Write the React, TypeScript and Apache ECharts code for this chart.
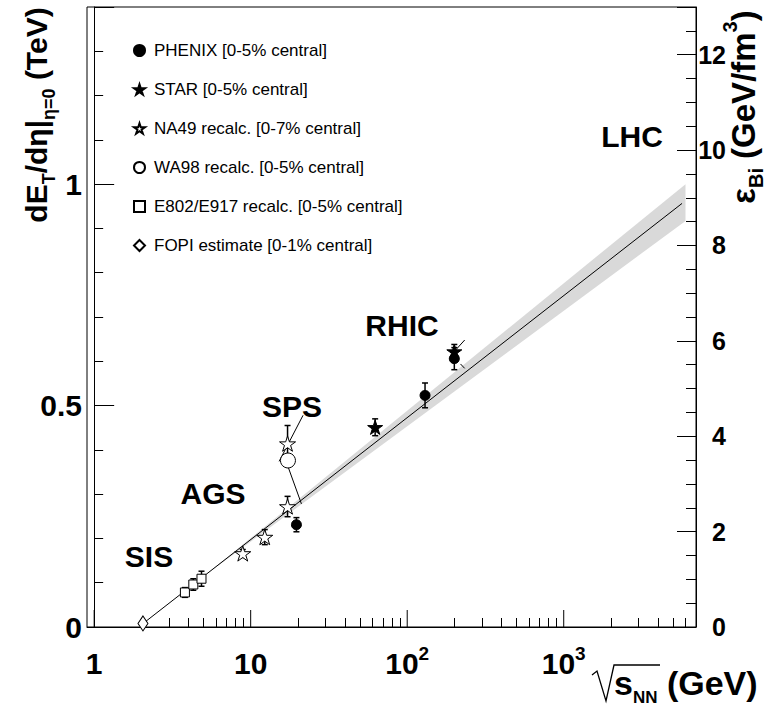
import React, { useEffect, useRef } from 'react';
import * as echarts from 'echarts';

const FONT = '"Liberation Sans", Arial, Helvetica, sans-serif';

// ---- data (sqrt(s_NN) in GeV, dE_T/deta in TeV) ----
const phenixX = [19.6, 130, 200];
const phenixY = [0.231, 0.523, 0.606];
const phenixErr = [0.016, 0.028, 0.025];

const starX = [62.4, 200];
const starY = [0.451, 0.622];
const starErr = [0.019, 0.016];

const na49X = [8.9, 12.3, 17.2, 17.2];
const na49Y = [0.166, 0.203, 0.272, 0.414];
const na49Err = [0.009, 0.017, 0.023, 0.041];

const wa98X = [17.3];
const wa98Y = [0.376];

const e802X = [3.8, 4.3, 4.85];
const e802Y = [0.078, 0.096, 0.109];
const e802Err = [0.011, 0.013, 0.017];

const fopiX = [2.05];
const fopiY = [0.008];

const fitX = [2.05, 5700];
const fitY = [0.0077, 0.9565];

const bandX = [5.0, 6000];
const bandLow = [0.114, 0.917];
const bandHigh = [0.114, 1.0];

const leaderLines = [
  [[21.6, 0.478], [15.2, 0.374]],
  [[17.2, 0.365], [21.1, 0.278]],
  [[233, 0.648], [201, 0.623]],
  [[219, 0.594], [233, 0.584]],
];

const seriesNames = [
  'PHENIX [0-5% central]',
  'STAR [0-5% central]',
  'NA49 recalc. [0-7% central]',
  'WA98 recalc. [0-5% central]',
  'E802/E917 recalc. [0-5% central]',
  'FOPI estimate [0-1% central]',
];

const xMajor = [1, 10, 100, 1000];
const xMinor = [2, 3, 4, 5, 6, 7, 8, 9, 20, 30, 40, 50, 60, 70, 80, 90, 200, 300, 400, 500, 600, 700, 800, 900, 2000, 3000, 4000, 5000, 6000];
const xRange = [0.9, 7000];
const yLeftRange = [0, 1.4];
const yRightRange = [0, 13];
const yLeftLabels = ['0', '0.5', '1'];
const regionLabels = ['SIS', 'AGS', 'SPS', 'RHIC', 'LHC'];

const STAR_PATH =
  'path://M50,0 L61.23,34.55 L97.55,34.55 L68.17,55.9 L79.39,90.45 L50,69.1 L20.61,90.45 L31.83,55.9 L2.45,34.55 L38.77,34.55 Z';

const lg = (v: number) => Math.log10(v);

export default function App() {
  const ref = useRef<HTMLDivElement>(null);

  useEffect(() => {
    const chart = echarts.init(ref.current!, null, { renderer: 'svg' });
    const pts = (xs: number[], ys: number[]) => xs.map((x, i) => [lg(x), ys[i]]);
    const errPts = (xs: number[], ys: number[], es: number[]) => xs.map((x, i) => [lg(x), ys[i], es[i]]);
    const allErr = [
      ...errPts(phenixX, phenixY, phenixErr),
      ...errPts(starX, starY, starErr),
      ...errPts(na49X, na49Y, na49Err),
      ...errPts(e802X, e802Y, e802Err),
    ];

    const black = '#000';
    const makeRich = (main: number, small: number, lh: number) => ({
      m: { fontSize: main, fontWeight: 'bold', fontFamily: FONT, color: black, lineHeight: lh, verticalAlign: 'middle' },
      s: { fontSize: small, fontWeight: 'bold', fontFamily: FONT, color: black, lineHeight: small, verticalAlign: 'bottom' },
      p: { fontSize: small, fontWeight: 'bold', fontFamily: FONT, color: black, lineHeight: small, verticalAlign: 'top' },
    });

    const regionPos = [
      [149, 556],
      [213, 493],
      [292, 406],
      [402, 325],
      [632, 136],
    ];

    const option: any = {
      animation: false,
      backgroundColor: '#fff',
      grid: {
        left: 87,
        right: 72,
        top: 7,
        bottom: 79,
        show: true,
        borderColor: black,
        borderWidth: 1,
        containLabel: false,
        outerBoundsMode: 'none',
      },
      legend: {
        orient: 'vertical',
        left: 128,
        top: 37,
        itemWidth: 11,
        itemHeight: 11,
        itemGap: 22,
        selectedMode: false,
        data: seriesNames,
        textStyle: { fontSize: 17, fontFamily: FONT, color: black, padding: [0, 0, 0, 4] },
      },
      xAxis: [
        {
          type: 'value',
          min: lg(xRange[0]),
          max: lg(xRange[1]),
          position: 'bottom',
          axisLine: { lineStyle: { color: black, width: 1 } },
          axisTick: { inside: true, length: 9, customValues: xMinor.map(lg), lineStyle: { color: black } },
          axisLabel: {
            customValues: xMajor.map(lg),
            margin: 17,
            color: black,
            formatter: (v: number) => {
              const n = Math.round(v);
              if (n === 0) return '{b|1}';
              if (n === 1) return '{b|10}';
              return '{b|10}{s|' + n + '}';
            },
            rich: {
              b: { fontSize: 30, fontWeight: 'bold', fontFamily: FONT, color: black, lineHeight: 34, verticalAlign: 'bottom' },
              s: { fontSize: 19, fontWeight: 'bold', fontFamily: FONT, color: black, lineHeight: 19, verticalAlign: 'top' },
            },
          },
          splitLine: { show: false },
        },
      ],
      yAxis: [
        {
          type: 'value',
          position: 'left',
          min: yLeftRange[0],
          max: yLeftRange[1],
          interval: 0.5,
          axisLine: { show: true, lineStyle: { color: black, width: 1 } },
          axisTick: { inside: true, length: 20, lineStyle: { color: black } },
          minorTick: { show: true, splitNumber: 5, length: 9, lineStyle: { color: black } },
          axisLabel: {
            margin: 5,
            showMaxLabel: false,
            color: black,
            fontSize: 30,
            fontWeight: 'bold',
            fontFamily: FONT,
            padding: [6, 0, 0, 0],
            formatter: (v: number) => {
              if (Math.abs(v) < 1e-9) return yLeftLabels[0];
              if (Math.abs(v - 0.5) < 1e-9) return yLeftLabels[1];
              if (Math.abs(v - 1) < 1e-9) return yLeftLabels[2];
              return '';
            },
          },
          splitLine: { show: false },
        },
        {
          type: 'value',
          position: 'right',
          min: yRightRange[0],
          max: yRightRange[1],
          interval: 2,
          axisLine: { show: true, lineStyle: { color: black, width: 1 } },
          axisTick: { inside: true, length: 19, lineStyle: { color: black } },
          minorTick: { show: true, splitNumber: 4, length: 10, lineStyle: { color: black } },
          axisLabel: {
            margin: 30,
            align: 'right',
            showMaxLabel: false,
            color: black,
            fontSize: 25,
            fontWeight: 'bold',
            fontFamily: FONT,
            padding: [4, 0, 0, 0],
          },
          splitLine: { show: false },
        },
      ],
      series: [
        {
          type: 'custom',
          name: 'band',
          coordinateSystem: 'cartesian2d',
          silent: true,
          z: 1,
          data: bandX.map((x, i) => [lg(x), bandLow[i], bandHigh[i]]),
          encode: { x: 0, y: [1, 2] },
          renderItem: (params: any, api: any) => {
            if (params.dataIndex !== 0) return { type: 'group', children: [] };
            const upper = bandX.map((x, i) => api.coord([lg(x), bandHigh[i]]));
            const lower = bandX.map((x, i) => api.coord([lg(x), bandLow[i]])).reverse();
            return {
              type: 'polygon',
              shape: { points: upper.concat(lower) },
              style: { fill: '#d9d9d9', stroke: 'none' },
            };
          },
        },
        {
          type: 'line',
          name: 'fit',
          data: pts(fitX, fitY),
          symbol: 'none',
          silent: true,
          z: 2,
          lineStyle: { color: black, width: 1 },
        },
        ...leaderLines.map((seg, k) => ({
          type: 'line',
          name: 'lead' + k,
          data: seg.map(([x, y]) => [lg(x), y]),
          symbol: 'none',
          silent: true,
          z: 2,
          lineStyle: { color: black, width: 1 },
        })),
        {
          type: 'custom',
          name: 'errors',
          coordinateSystem: 'cartesian2d',
          silent: true,
          z: 3,
          data: allErr,
          encode: { x: 0, y: 1 },
          renderItem: (params: any, api: any) => {
            const x = api.value(0);
            const y = api.value(1);
            const e = api.value(2);
            const t = api.coord([x, y + e]);
            const b = api.coord([x, y - e]);
            const c = 3;
            const st = { stroke: black, lineWidth: 1.5 };
            return {
              type: 'group',
              children: [
                { type: 'line', shape: { x1: t[0], y1: t[1], x2: b[0], y2: b[1] }, style: st },
                { type: 'line', shape: { x1: t[0] - c, y1: t[1], x2: t[0] + c, y2: t[1] }, style: st },
                { type: 'line', shape: { x1: b[0] - c, y1: b[1], x2: b[0] + c, y2: b[1] }, style: st },
              ],
            };
          },
        },
        {
          type: 'custom',
          name: 'majorTicks',
          coordinateSystem: 'cartesian2d',
          silent: true,
          clip: false,
          z: 5,
          data: xMajor.map((v) => [lg(v), 0]),
          encode: { x: 0, y: 1 },
          renderItem: (params: any, api: any) => {
            const c = api.coord([api.value(0), 0]);
            return {
              type: 'line',
              shape: { x1: c[0], y1: c[1], x2: c[0], y2: c[1] - 17 },
              style: { stroke: black, lineWidth: 1 },
            };
          },
        },
        {
          type: 'scatter',
          name: seriesNames[0],
          data: pts(phenixX, phenixY),
          symbol: 'circle',
          symbolSize: 10,
          z: 4,
          silent: true,
          itemStyle: { color: black, borderColor: black, borderWidth: 1, opacity: 1 },
        },
        {
          type: 'scatter',
          name: seriesNames[1],
          data: pts(starX, starY),
          symbol: STAR_PATH,
          symbolKeepAspect: true,
          symbolSize: 15,
          z: 4,
          silent: true,
          itemStyle: { color: black, borderColor: black, borderWidth: 1, opacity: 1 },
        },
        {
          type: 'scatter',
          name: seriesNames[2],
          data: pts(na49X, na49Y),
          symbol: STAR_PATH,
          symbolKeepAspect: true,
          symbolSize: 16,
          z: 4,
          silent: true,
          itemStyle: { color: '#fff', borderColor: black, borderWidth: 1, opacity: 1 },
        },
        {
          type: 'scatter',
          name: seriesNames[3],
          data: pts(wa98X, wa98Y),
          symbol: 'circle',
          symbolSize: 15,
          z: 4,
          silent: true,
          itemStyle: { color: '#fff', borderColor: black, borderWidth: 1, opacity: 1 },
        },
        {
          type: 'scatter',
          name: seriesNames[4],
          data: pts(e802X, e802Y),
          symbol: 'rect',
          symbolSize: 9,
          z: 4,
          silent: true,
          itemStyle: { color: '#fff', borderColor: black, borderWidth: 1, opacity: 1 },
        },
        {
          type: 'scatter',
          name: seriesNames[5],
          data: pts(fopiX, fopiY),
          symbol: 'diamond',
          symbolSize: [10, 15],
          z: 4,
          silent: true,
          itemStyle: { color: '#fff', borderColor: black, borderWidth: 1, opacity: 1 },
        },
      ],
      graphic: [
        ...regionLabels.map((t, i) => ({
          type: 'text',
          x: regionPos[i][0],
          y: regionPos[i][1],
          silent: true,
          style: {
            text: t,
            fontSize: 30,
            fontWeight: 'bold',
            fontFamily: FONT,
            fill: black,
            align: 'center',
            verticalAlign: 'middle',
          },
        })),
        {
          type: 'text',
          x: 36,
          y: 115,
          rotation: Math.PI / 2,
          silent: true,
          style: {
            text: '{m|dE}{s|T}{m|/dη|}{s|η=0}{m| (TeV)}',
            rich: makeRich(30, 18, 44),
            align: 'center',
            verticalAlign: 'middle',
          },
        },
        {
          type: 'text',
          x: 743,
          y: 107,
          rotation: Math.PI / 2,
          silent: true,
          style: {
            text: '{m|ε}{s|Bi}{m| (GeV/fm}{p|3}{m|)}',
            rich: makeRich(33, 20, 46),
            align: 'center',
            verticalAlign: 'middle',
          },
        },
        {
          type: 'text',
          x: 614,
          y: 683,
          silent: true,
          style: {
            text: '{m|s}{s|NN}{m| (GeV)}',
            rich: makeRich(34, 17, 46),
            align: 'left',
            verticalAlign: 'middle',
          },
        },
        {
          type: 'polyline',
          silent: true,
          shape: {
            points: [
              [592, 675],
              [597, 671],
              [606, 701],
              [614, 665],
              [660, 665],
            ],
          },
          style: { stroke: black, lineWidth: 1.3, fill: 'none' },
        },
      ],
    };

    chart.setOption(option);
    return () => chart.dispose();
  }, []);

  return (
    <div
      ref={ref}
      style={{ position: 'absolute', left: 0, top: 0, width: 768, height: 706, background: '#fff' }}
    />
  );
}
